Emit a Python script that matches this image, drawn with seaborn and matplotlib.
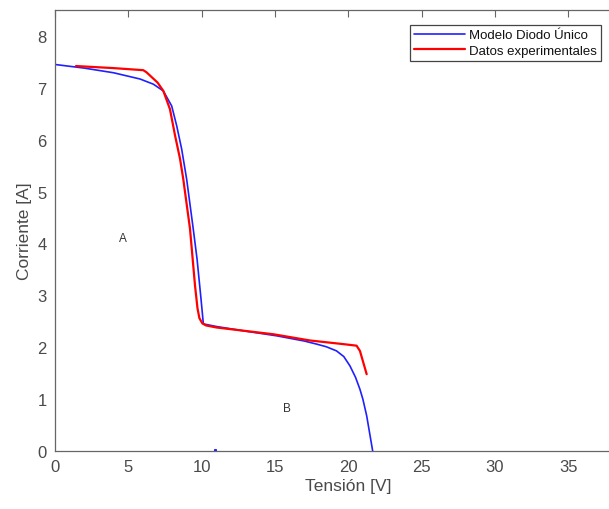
import matplotlib
matplotlib.use("Agg")
import matplotlib.pyplot as plt
import seaborn as sns
import pandas as pd

# Curva I-V del modelo de diodo único
model_v = [0.0, 2.0, 4.0, 5.8, 6.71, 7.39, 7.96, 8.30, 8.64, 8.98, 9.43, 9.69,
           9.96, 10.12, 11.0, 13.0, 15.12, 17.0, 17.85, 18.5, 19.2, 19.7,
           20.12, 20.5, 20.8, 21.0, 21.26, 21.67]
model_i = [7.45, 7.38, 7.29, 7.17, 7.07, 6.94, 6.65, 6.27, 5.82, 5.24, 4.28, 3.70,
           2.93, 2.45, 2.40, 2.31, 2.22, 2.12, 2.06, 2.01, 1.93, 1.82,
           1.64, 1.42, 1.19, 1.00, 0.68, 0.0]

# Datos experimentales medidos
exp_v = [1.43, 4.0, 6.02, 6.24, 7.0, 7.39, 7.84, 8.19, 8.53, 8.75, 9.21, 9.55,
         9.72, 9.85, 10.05, 10.3, 11.03, 14.9, 17.4, 19.67, 20.57, 20.8, 21.26]
exp_i = [7.42, 7.38, 7.34, 7.30, 7.10, 6.94, 6.59, 6.08, 5.63, 5.24, 4.28, 3.19,
         2.75, 2.56, 2.46, 2.42, 2.38, 2.25, 2.13, 2.06, 2.03, 1.93, 1.48]

series_names = ["Modelo Diodo Único", "Datos experimentales"]
x_ticks = [0, 5, 10, 15, 20, 25, 30, 35]
y_ticks = [0, 1, 2, 3, 4, 5, 6, 7, 8]

df_model = pd.DataFrame({"V": model_v, "I": model_i})
df_exp = pd.DataFrame({"V": exp_v, "I": exp_i})

sns.set_style("white")
plt.rcParams["font.family"] = ["Liberation Sans", "DejaVu Sans"]

text_grey = "#4a4a4a"
axis_grey = "#666666"

fig = plt.figure(figsize=(6.09, 5.10), dpi=100)
ax = fig.add_axes([55 / 609, 58 / 510, 586.4 / 609, 441 / 510])

sns.lineplot(data=df_model, x="V", y="I", sort=False, ax=ax, color="#2020ff",
             linewidth=1.2, label=series_names[0])
sns.lineplot(data=df_exp, x="V", y="I", sort=False, ax=ax, color="#ff0000",
             linewidth=1.6, label=series_names[1])
ax.plot([10.9], [0.02], marker="s", markersize=1.2, color="#2020ff", linestyle="none")

ax.set_xlim(0, 40)
ax.set_ylim(0, 8.5)
ax.set_xticks(x_ticks)
ax.set_yticks(y_ticks)
ax.set_xlabel("Tensión [V]", fontsize=12.5, color=text_grey, labelpad=3)
ax.set_ylabel("Corriente [A]", fontsize=12.5, color=text_grey, labelpad=4)
ax.tick_params(axis="both", direction="in", length=5, width=0.8, colors=axis_grey,
               labelcolor=text_grey, labelsize=12, top=True, right=True, pad=6)
for s in ax.spines.values():
    s.set_color(axis_grey)
    s.set_linewidth(0.9)

ax.text(4.6, 4.1, "A", fontsize=8.5, color="#333333", ha="center", va="center")
ax.text(15.8, 0.82, "B", fontsize=8.5, color="#333333", ha="center", va="center")

leg = ax.legend(loc="upper right", bbox_to_anchor=(601 / 609, 1 - 26 / 510),
                bbox_transform=fig.transFigure, borderaxespad=0, fontsize=9.5,
                frameon=True, fancybox=False, handlelength=3.9, handletextpad=0.3,
                borderpad=0.3, labelspacing=0.25, framealpha=1)
leg.get_frame().set_edgecolor("#444444")
leg.get_frame().set_linewidth(0.9)
for t in leg.get_texts():
    t.set_color("#111111")

fig.savefig("out.png", dpi=100)
